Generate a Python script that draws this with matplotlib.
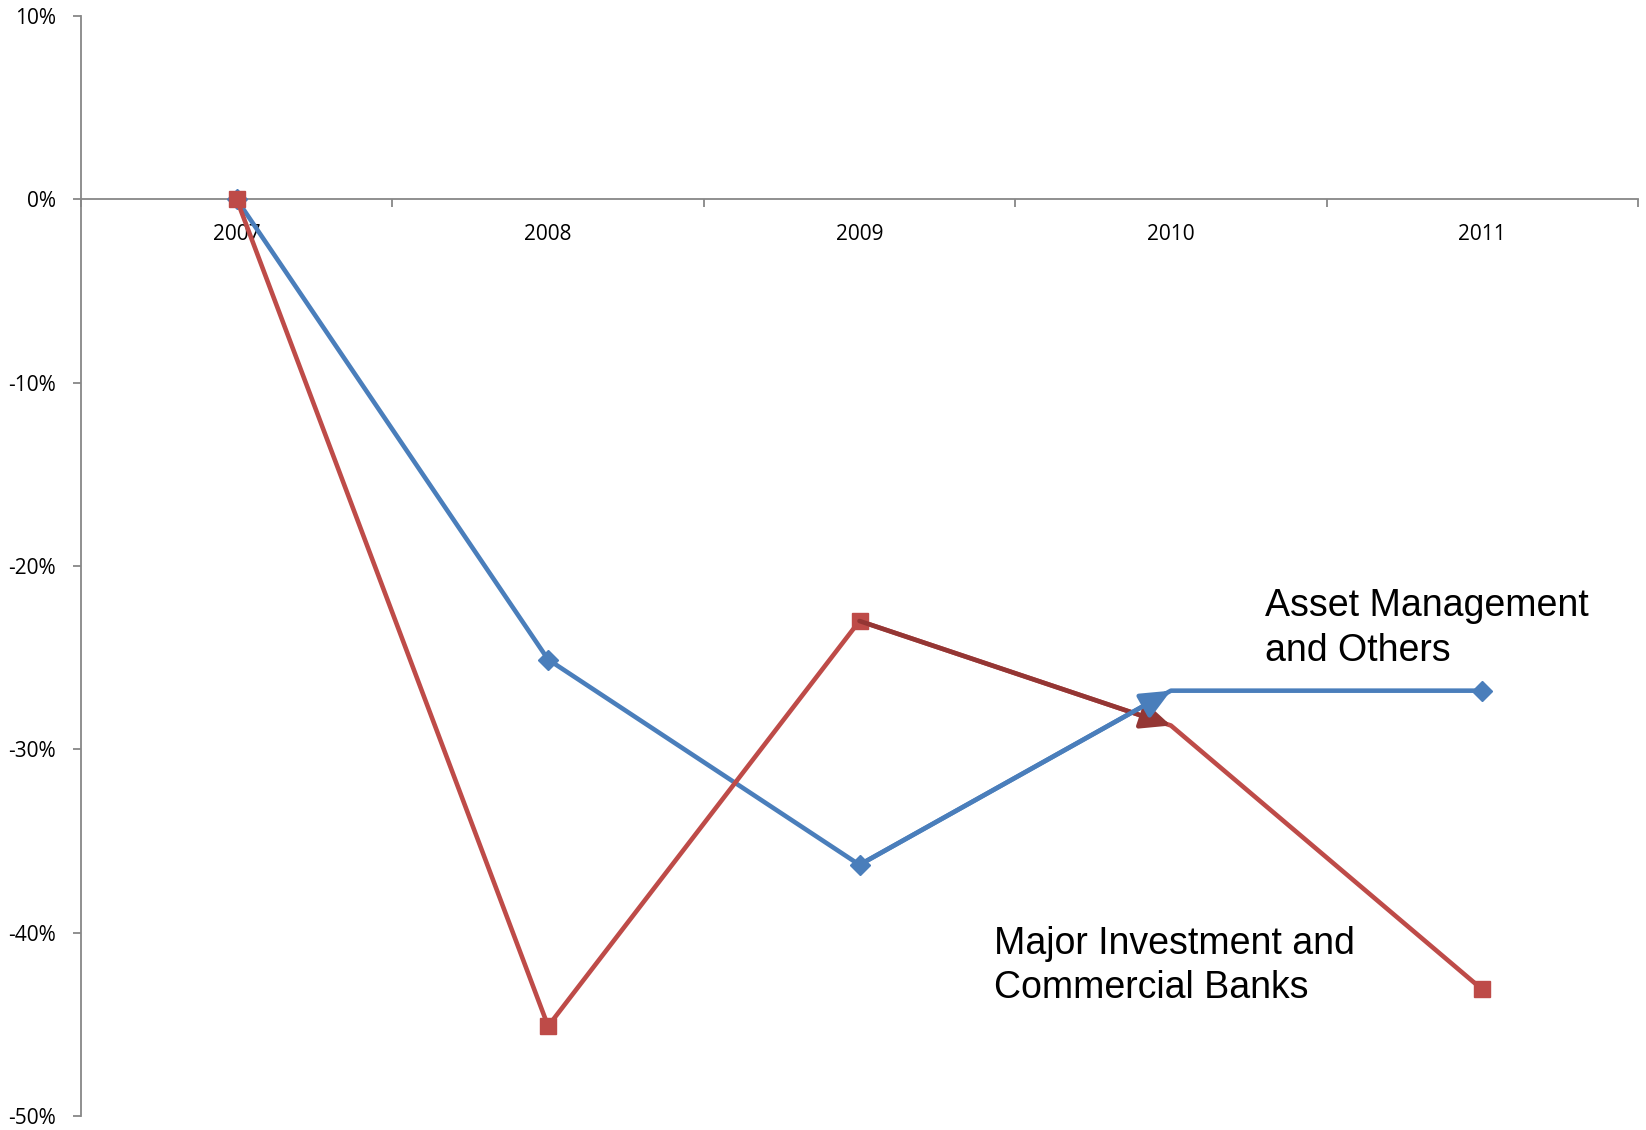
import matplotlib
matplotlib.use("Agg")
import matplotlib.pyplot as plt
from matplotlib.ticker import FixedLocator, FuncFormatter

# Year-over-year change, percent
years = ["2007", "2008", "2009", "2010", "2011"]
asset_mgmt = [0.0, -25.1, -36.3, -26.8, -26.8]
major_banks = [0.0, -45.1, -23.0, -28.7, -43.1]

y_ticks = [10, 0, -10, -20, -30, -40, -50]

BLUE = "#4A7EBB"
RED = "#BE4B48"
DARK_RED = "#943634"
AXIS_GRAY = "#878787"

fig = plt.figure(figsize=(16.46, 11.30), dpi=100)
ax = fig.add_axes([81 / 1646, 1 - 1116 / 1130, (1638 - 81) / 1646, (1116 - 16) / 1130])

x = list(range(len(years)))
marks = [0, 1, 2, 4]
LW = 3.3

ax.plot(x, asset_mgmt, color=BLUE, lw=LW, marker="D", ms=10,
        markevery=marks, solid_joinstyle="round", zorder=3)
ax.plot(x, major_banks, color=RED, lw=LW, marker="s", ms=11.5,
        markevery=marks, solid_joinstyle="round", zorder=3)

# Highlight the 2009 -> 2010 moves with arrows
head = "-|>,head_length=1.8,head_width=0.8"
ax.annotate("", xy=(x[3], major_banks[3]), xytext=(x[2], major_banks[2]),
            arrowprops=dict(arrowstyle=head, color=DARK_RED, lw=LW,
                            shrinkA=0, shrinkB=0),
            zorder=4)
ax.annotate("", xy=(x[3], asset_mgmt[3]), xytext=(x[2], asset_mgmt[2]),
            arrowprops=dict(arrowstyle=head, color=BLUE, lw=LW,
                            shrinkA=0, shrinkB=0),
            zorder=4)

ax.set_xlim(-0.5, len(years) - 0.5)
ax.set_ylim(-50, 10)

for side in ("top", "right"):
    ax.spines[side].set_visible(False)
ax.spines["bottom"].set_position(("data", 0))
ax.spines["bottom"].set_color(AXIS_GRAY)
ax.spines["left"].set_color(AXIS_GRAY)
ax.spines["bottom"].set_linewidth(1.3)
ax.spines["left"].set_linewidth(1.3)

# Category axis: tick marks between years, labels centred on years
ax.xaxis.set_major_locator(FixedLocator([i - 0.5 for i in range(len(years) + 1)]))
ax.xaxis.set_major_formatter(FuncFormatter(lambda v, p: ""))
ax.xaxis.set_minor_locator(FixedLocator(x))
ax.xaxis.set_minor_formatter(FuncFormatter(lambda v, p: years[int(round(v))]))
ax.tick_params(axis="x", which="major", direction="out", length=6, width=1.3,
               color=AXIS_GRAY)
ax.tick_params(axis="x", which="minor", length=0, pad=18, labelsize=15,
               labelfontfamily="Open Sans")

ax.set_yticks(y_ticks)
ax.set_yticklabels([f"{v}%" for v in y_ticks])
ax.tick_params(axis="y", direction="out", length=6, width=1.3, color=AXIS_GRAY,
               pad=12, labelsize=15, labelfontfamily="Open Sans")

ax.text(3.302, -25.17, "Asset Management\nand Others", fontsize=27,
        family="Liberation Sans", ha="left", va="baseline", linespacing=1.3)
ax.text(2.432, -43.56, "Major Investment and\nCommercial Banks", fontsize=27,
        family="Liberation Sans", ha="left", va="baseline", linespacing=1.3)

fig.savefig("out.png", dpi=100)
